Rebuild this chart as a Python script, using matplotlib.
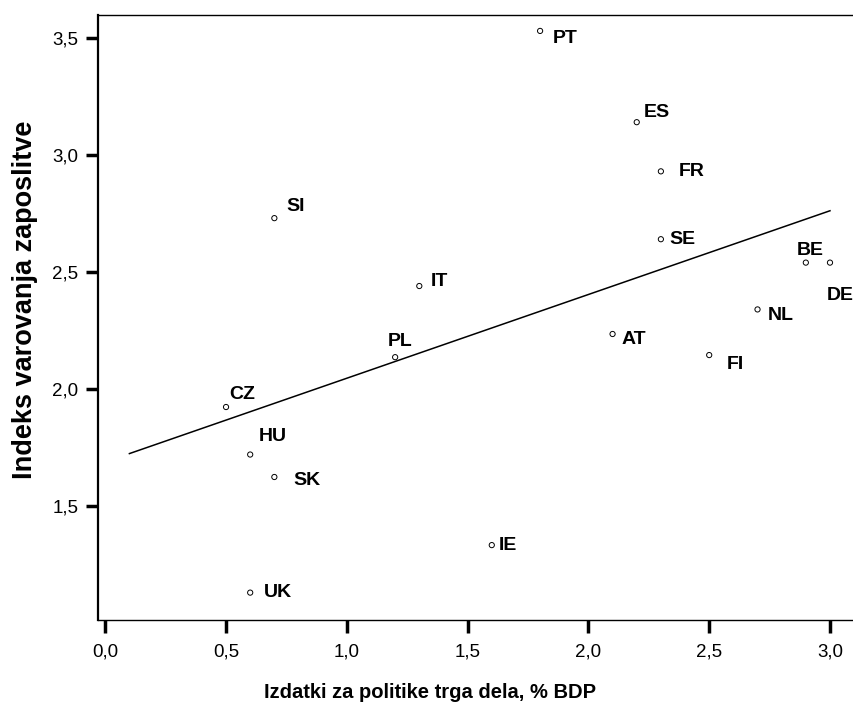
import numpy as np
import matplotlib
matplotlib.use("Agg")
import matplotlib.pyplot as plt

countries = ["PT", "ES", "FR", "SE", "BE", "DE", "NL", "AT", "FI",
             "IT", "PL", "SI", "CZ", "HU", "SK", "IE", "UK"]
spending = [1.8, 2.2, 2.3, 2.3, 2.9, 3.0, 2.7, 2.1, 2.5,
            1.3, 1.2, 0.7, 0.5, 0.6, 0.7, 1.6, 0.6]
epl_index = [3.53, 3.14, 2.93, 2.64, 2.54, 2.54, 2.34, 2.235, 2.145,
             2.44, 2.136, 2.73, 1.923, 1.72, 1.624, 1.333, 1.13]
x_ticks = [0.0, 0.5, 1.0, 1.5, 2.0, 2.5, 3.0]
y_ticks = [1.5, 2.0, 2.5, 3.0, 3.5]
fit_range = [0.1, 3.0]

# label offsets in pixels (position styling)
label_offsets = {
    "PT": (13, -8), "ES": (7, 10), "FR": (18, 0), "SE": (8, 0),
    "BE": (-9, 12), "DE": (-3, -33), "NL": (10, -6), "AT": (9, -6),
    "FI": (18, -9), "IT": (11, 5), "PL": (-7, 16), "SI": (12, 12),
    "CZ": (3, 13), "HU": (9, 18), "SK": (19, -4), "IE": (7, 0),
    "UK": (14, 0),
}

plt.rcParams["font.family"] = ["Liberation Sans", "DejaVu Sans"]

fig = plt.figure(figsize=(8.54, 7.03), dpi=100)
ax = fig.add_axes([98 / 854, 1 - 620 / 703, 1 - 98 / 854 + 0.003, (620 - 15) / 703])

ax.scatter(spending, epl_index, s=14, facecolors="none", edgecolors="black",
           linewidths=0.7, zorder=3)

slope, intercept = np.polyfit(spending, epl_index, 1)
fx = np.array(fit_range)
ax.plot(fx, intercept + slope * fx, color="black", lw=1.1, zorder=2)

for c, x, y in zip(countries, spending, epl_index):
    dx, dy = label_offsets[c]
    ax.annotate(c, (x, y), xytext=(dx, dy), textcoords="offset pixels",
                ha="left", va="center", fontsize=14, fontweight="bold")

ax.set_xlim(-0.03, 3.11)
ax.set_ylim(1.013, 3.598)
ax.set_xticks(x_ticks)
ax.set_yticks(y_ticks)
ax.set_xticklabels([f"{t:.1f}".replace(".", ",") for t in x_ticks], fontsize=13.5)
ax.set_yticklabels([f"{t:.1f}".replace(".", ",") for t in y_ticks], fontsize=13.5)
ax.tick_params(axis="x", direction="out", length=9, width=2.5, pad=8)
ax.tick_params(axis="y", direction="out", length=9, width=2.5, pad=5)

for side in ["left", "bottom", "top", "right"]:
    ax.spines[side].set_linewidth(1.0)
ax.spines["left"].set_linewidth(1.6)

ax.set_xlabel("Izdatki za politike trga dela, % BDP", fontsize=14.5,
              fontweight="bold")
ax.set_ylabel("Indeks varovanja zaposlitve", fontsize=19.5,
              fontweight="bold")
ax.xaxis.set_label_coords(0.438, -0.104)
ax.yaxis.set_label_coords(-0.079, 0.529)

fig.savefig("out.png", dpi=100)
